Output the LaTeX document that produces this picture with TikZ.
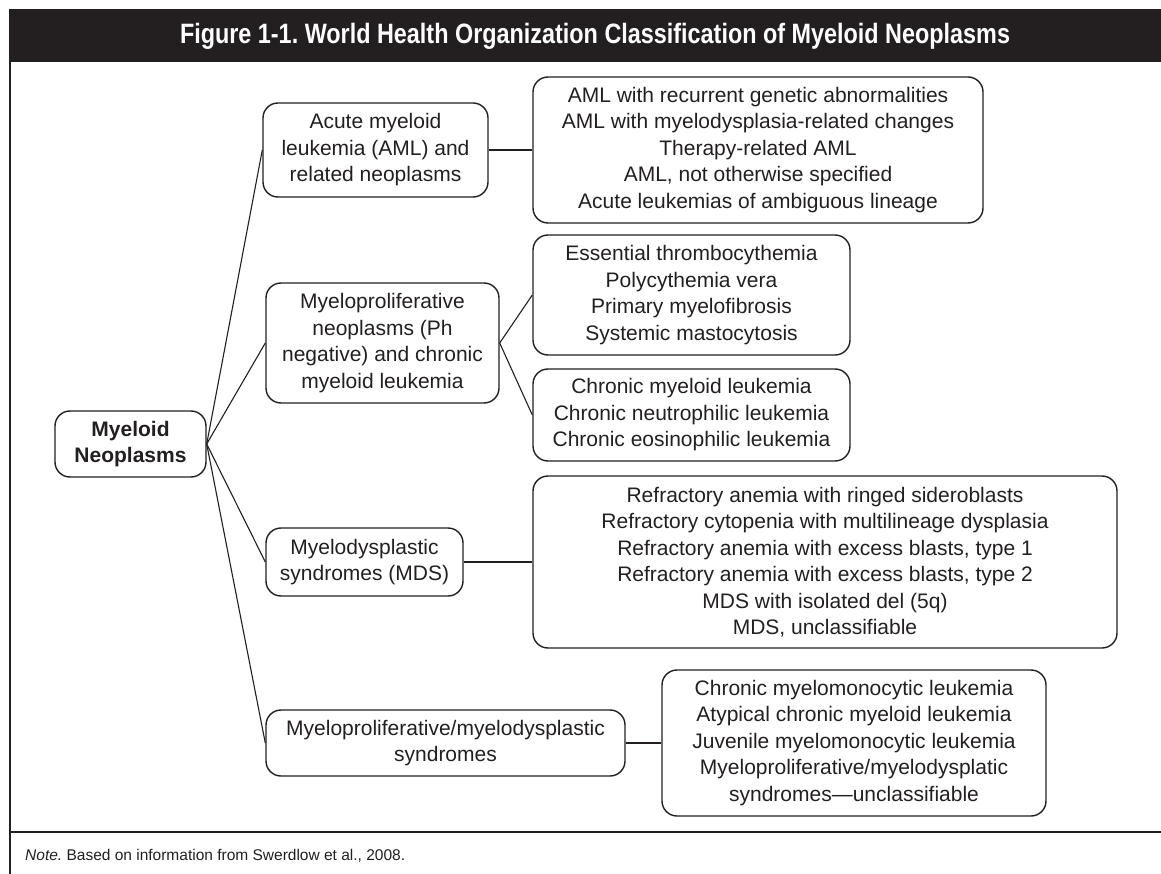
\documentclass[tikz,border=0pt]{standalone}
\usepackage{fontspec}
\usepackage{graphicx}
\setmainfont{Liberation Sans}
\definecolor{ink}{HTML}{231F20}
\tikzset{
  box/.style={draw=ink, line width=1.4pt, rounded corners=15pt, align=center, inner sep=0pt, text=ink, font=\fontsize{21}{26.5}\selectfont},
  conn/.style={draw=ink, line width=1.1pt}
}
\begin{document}
\begin{tikzpicture}[x=1pt,y=-1pt]
\useasboundingbox (0,0) rectangle (1161,874);
\fill[ink] (9,9) rectangle (1161,62);
\node[text=white, inner sep=0pt] (title) at (595,36) {\resizebox{830pt}{\height}{\fontsize{28}{28}\selectfont\bfseries\frenchspacing Figure 1-1. World Health Organization Classification of Myeloid Neoplasms}};
\draw[ink, line width=2.2pt] (10,62) -- (10,874);
\draw[ink, line width=2pt] (9,832) -- (1161,832);
\node[anchor=base west, inner sep=0pt, text=ink, font=\fontsize{15.5}{17}\selectfont] (note) at (25,860) {\frenchspacing\textit{Note.} Based on information from Swerdlow et al., 2008.};

\node[box, minimum width=151pt, minimum height=66pt, font=\fontsize{21}{26}\selectfont\bfseries] (root) at (130.5,444) {Myeloid\\Neoplasms};

\node[box, minimum width=225pt, minimum height=94pt] (aml) at (375.5,150) {Acute myeloid\\leukemia (AML) and\\related neoplasms};
\node[box, minimum width=450pt, minimum height=146pt] (amll) at (758,150) {AML with recurrent genetic abnormalities\\AML with myelodysplasia-related changes\\Therapy-related AML\\AML, not otherwise specified\\Acute leukemias of ambiguous lineage};

\node[box, minimum width=233pt, minimum height=120pt] (mpn) at (382.5,343) {Myeloproliferative\\neoplasms (Ph\\negative) and chronic\\myeloid leukemia};
\node[box, minimum width=317pt, minimum height=120pt] (etl) at (691.5,295) {Essential thrombocythemia\\Polycythemia vera\\Primary myelofibrosis\\Systemic mastocytosis};
\node[box, minimum width=317pt, minimum height=92pt] (cmll) at (691.5,415) {Chronic myeloid leukemia\\Chronic neutrophilic leukemia\\Chronic eosinophilic leukemia};

\node[box, minimum width=197pt, minimum height=68pt] (mds) at (364.5,562) {Myelodysplastic\\syndromes (MDS)};
\node[box, minimum width=584pt, minimum height=172pt] (mdsl) at (825,562) {Refractory anemia with ringed sideroblasts\\Refractory cytopenia with multilineage dysplasia\\Refractory anemia with excess blasts, type 1\\Refractory anemia with excess blasts, type 2\\MDS with isolated del (5q)\\MDS, unclassifiable};

\node[box, minimum width=359pt, minimum height=66pt] (mm) at (445.5,743) {Myeloproliferative/myelodysplastic\\syndromes};
\node[box, minimum width=384pt, minimum height=146pt] (mml) at (854,743) {Chronic myelomonocytic leukemia\\Atypical chronic myeloid leukemia\\Juvenile myelomonocytic leukemia\\Myeloproliferative/myelodysplatic\\syndromes---unclassifiable};

\draw[conn] (root.east) -- (aml.west);
\draw[conn] (root.east) -- (mpn.west);
\draw[conn] (root.east) -- (mds.west);
\draw[conn] (root.east) -- (mm.west);
\draw[conn] (aml.east) -- (amll.west);
\draw[conn] (mpn.east) -- (etl.west);
\draw[conn] (mpn.east) -- (cmll.west);
\draw[conn] (mds.east) -- (mdsl.west);
\draw[conn] (mm.east) -- (mml.west);
\end{tikzpicture}
\end{document}
